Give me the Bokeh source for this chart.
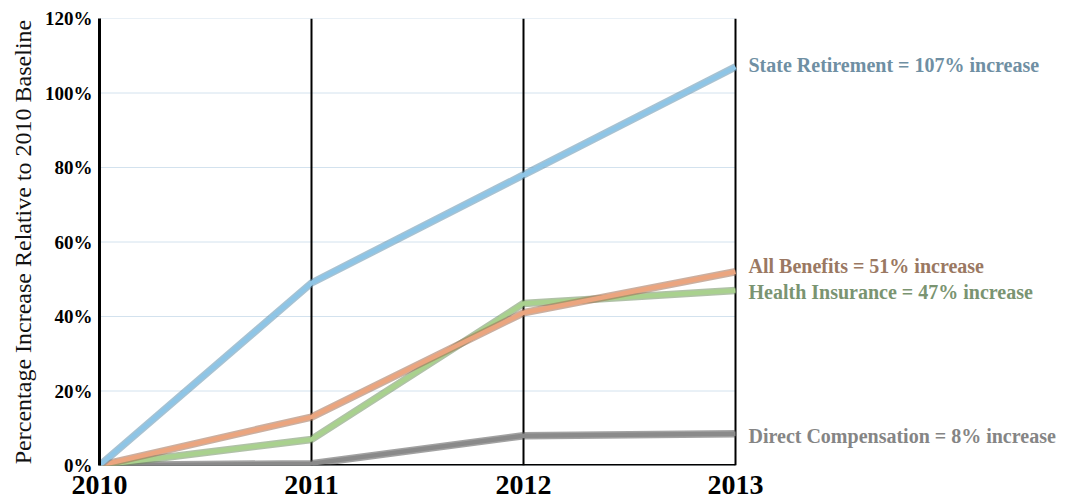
from bokeh.plotting import figure
from bokeh.models import FixedTicker, PrintfTickFormatter
from bokeh.core.properties import value
from bokeh.embed import file_html
from bokeh.resources import INLINE

years = [2010, 2011, 2012, 2013]
state_retirement = [0, 49, 78, 107]
all_benefits = [0, 13, 41, 52]
health_insurance = [0, 7, 43.5, 47]
direct_comp = [0, 0.5, 8, 8.5]
y_ticks = [0, 20, 40, 60, 80, 100, 120]

series = [
    ("State Retirement = 107% increase", state_retirement, "#8ec5e6", "#5f8fad", "#6f8fa3", 107.5),
    ("All Benefits = 51% increase", all_benefits, "#eba57f", "#a06e52", "#9a7862", 53.5),
    ("Health Insurance = 47% increase", health_insurance, "#a9d18e", "#6f8f5e", "#7a9471", 46.5),
    ("Direct Compensation = 8% increase", direct_comp, "#8a8a8a", "#555555", "#858585", 8),
]

FONT = "Liberation Serif"
x_end = 2013 + 334 / 212.0

p = figure(width=1069, height=500, output_backend="svg", toolbar_location=None,
           x_range=(2010, x_end), y_range=(0, 120),
           min_border_left=99, min_border_right=0, min_border_top=18, min_border_bottom=35)
p.outline_line_color = None
p.background_fill_color = "white"
p.border_fill_color = "white"

p.xgrid.grid_line_color = None
p.ygrid.grid_line_color = None

# horizontal grid lines only across the data area
p.segment(x0=[years[0]] * len(y_ticks), x1=[years[-1]] * len(y_ticks), y0=y_ticks, y1=y_ticks,
          line_color="#d3e2ee", line_width=1)

# axes
p.yaxis.ticker = FixedTicker(ticks=y_ticks)
p.yaxis.formatter = PrintfTickFormatter(format="%d%%")
p.yaxis.axis_line_width = 3
p.yaxis.axis_line_color = "black"
p.yaxis.major_tick_line_color = None
p.yaxis.minor_tick_line_color = None
p.yaxis.major_label_text_font = FONT
p.yaxis.major_label_text_font_style = "bold"
p.yaxis.major_label_text_font_size = "19px"
p.yaxis.major_label_text_color = "black"
p.yaxis.major_label_standoff = 1
p.yaxis.axis_label = "Percentage Increase Relative to 2010 Baseline"
p.yaxis.axis_label_text_font = FONT
p.yaxis.axis_label_text_font_style = "normal"
p.yaxis.axis_label_text_font_size = "24px"
p.yaxis.axis_label_text_color = "#111111"
p.yaxis.axis_label_standoff = 6

p.xaxis.ticker = FixedTicker(ticks=years)
p.xaxis.axis_line_color = None
p.xaxis.major_tick_line_color = None
p.xaxis.minor_tick_line_color = None
p.xaxis.major_label_text_font = FONT
p.xaxis.major_label_text_font_style = "bold"
p.xaxis.major_label_text_font_size = "28px"
p.xaxis.major_label_text_color = "black"
p.xaxis.major_label_standoff = 4

# baseline across the data area
p.segment(x0=[years[0]], x1=[years[-1]], y0=[0], y1=[0], line_color="black", line_width=3)

for yr in years[1:]:
    p.segment(x0=[yr], x1=[yr], y0=[0], y1=[120], line_color="black", line_width=2)

# lines
for name, vals, col, dark, tcol, ylab in reversed(series):
    p.line(years, vals, line_color=dark, line_width=7.5, line_alpha=0.55, line_join="round")
    p.line(years, vals, line_color=col, line_width=4.5, line_join="round")

for name, vals, col, dark, tcol, ylab in series:
    p.text(x=[years[-1]], y=[ylab], text=[name], x_offset=13, text_baseline="middle",
           text_font=value(FONT), text_font_style="bold", text_font_size="20px",
           text_color=tcol)

open("out.html", "w").write(file_html(p, INLINE))
